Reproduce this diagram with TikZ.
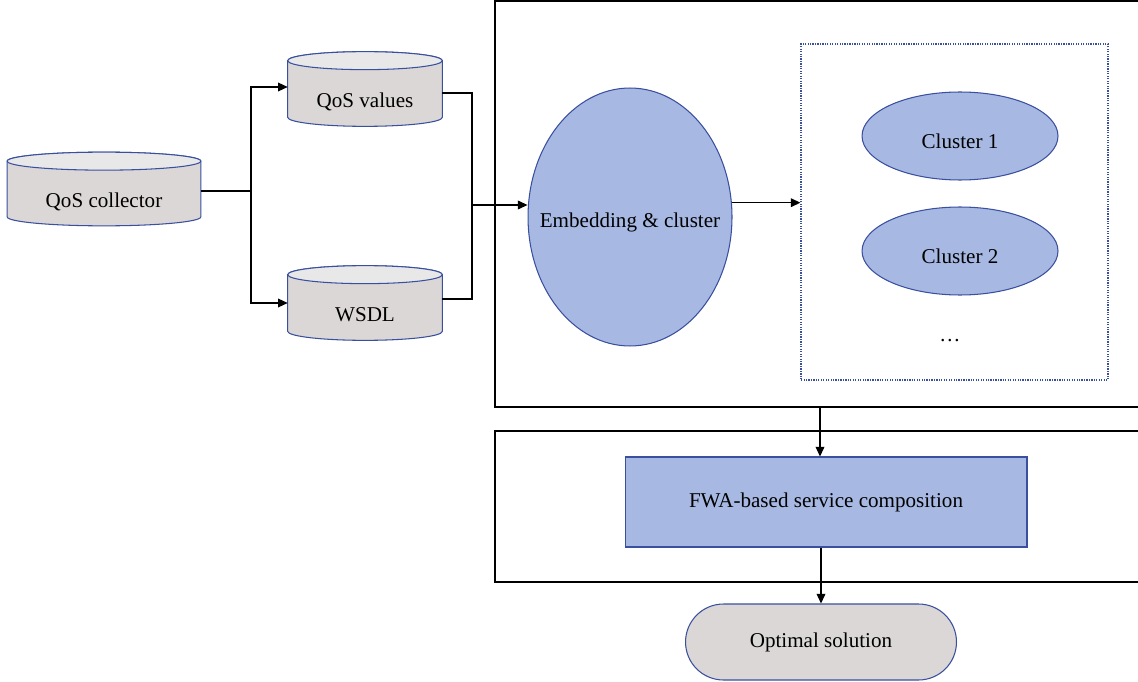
\documentclass[tikz,border=0pt]{standalone}
\usepackage{fontspec}
\setmainfont{Liberation Serif}
\usepackage{tikz}
\usetikzlibrary{shapes.geometric, shapes.misc, arrows.meta, positioning, calc, backgrounds}

\definecolor{edgeblue}{HTML}{3A4F9E}
\definecolor{dbbody}{HTML}{DAD7D6}
\definecolor{dbtop}{HTML}{E9E8E8}
\definecolor{clfill}{HTML}{A7B9E3}

\begin{document}
\begin{tikzpicture}[
    x=0.02cm, y=-0.02cm,
    txt/.style={font=\fontsize{12}{14}\selectfont},
    db/.style={rectangle, inner sep=0pt, txt, text height=0.8cm, text depth=0.05cm},
    dbshape/.style={draw=edgeblue, line width=0.6pt},
    blob/.style={ellipse, draw=edgeblue, fill=clfill, inner sep=0pt, line width=0.6pt, label={[txt, yshift=-0.1cm]center:#1}},
    stepbox/.style={rectangle, draw=edgeblue, fill=clfill, inner sep=0pt, line width=0.6pt, txt},
    frame/.style={rectangle, draw=black, inner sep=0pt, line width=0.7pt},
    arrow/.style={-{Triangle[length=5.5pt, width=5pt]}, line width=0.6pt, color=black},
    link/.style={line width=0.6pt, color=black},
]
\useasboundingbox (0,0) rectangle (1138,682);

% ── Containers ──
\node[frame, minimum width=13cm, minimum height=8.12cm] (topframe) at (820,204) {};
\node[frame, minimum width=13cm, minimum height=3.02cm] (botframe) at (820,506.5) {};
\node[rectangle, draw=edgeblue, dash pattern=on 0.7pt off 0.7pt, line width=0.7pt, minimum width=6.14cm, minimum height=6.72cm] (clbox) at (954.5,212) {};

% ── Data sources ──
\node[db, minimum width=3.86cm, minimum height=1.46cm] (coll) at (104,189) {QoS collector};
\node[db, minimum width=3.08cm, minimum height=1.48cm] (vals) at (365,89) {QoS values};
\node[db, minimum width=3.08cm, minimum height=1.48cm] (wsdl) at (365,303) {WSDL};

% ── Clustering ──
\node[blob=Embedding \& cluster, minimum width=4.08cm, minimum height=5.16cm] (embed) at (630,217) {};
\node[blob=Cluster 1, minimum width=3.92cm, minimum height=1.76cm] (cl1) at (960,136) {};
\node[blob=Cluster 2, minimum width=3.92cm, minimum height=1.76cm] (cl2) at (960,251) {};
\node[txt] (dots) at (950,341) {\dots};

% ── Composition ──
\node[stepbox, minimum width=8.04cm, minimum height=1.8cm] (fwa) at (826,502) {FWA-based service composition};
\node[rounded rectangle, draw=edgeblue, fill=dbbody, line width=0.6pt, inner sep=0pt, minimum width=5.42cm, minimum height=1.52cm, txt] (opt) at (821,642) {Optimal solution};

% ── Cylinders behind the data sources ──
\begin{scope}[on background layer]
\foreach \db in {coll, vals, wsdl} {
  \path[dbshape, fill=dbbody] let \p1=(\db.west), \p2=(\db.east) in
    ([yshift=-0.18cm]\db.north west) -- ([yshift=0.18cm]\db.south west)
    arc[start angle=180, end angle=360, x radius={(\x2-\x1)/2}, y radius=0.18cm]
    -- ([yshift=-0.18cm]\db.north east)
    arc[start angle=0, end angle=180, x radius={(\x2-\x1)/2}, y radius=0.18cm] -- cycle;
  \path[dbshape, fill=dbtop] let \p1=(\db.west), \p2=(\db.east) in
    ([yshift=-0.18cm]\db.north) ellipse[x radius={(\x2-\x1)/2}, y radius=0.18cm];
}
\end{scope}

% ── Arrows ──
\coordinate (split) at (251,191);
\coordinate (merge) at (472,205);
\draw[link] (coll.east |- split) -- (split);
\draw[arrow] (split) |- ([yshift=0.04cm]vals.west);
\draw[arrow] (split) |- (wsdl.west);
\draw[link] ([yshift=-0.08cm]vals.east) -| (merge);
\draw[link] ([yshift=0.08cm]wsdl.east) -| (merge);
\draw[arrow] (merge) -- (merge -| embed.west);
\draw[arrow] (embed.8) -- (embed.8 -| clbox.west);
\draw[arrow] (topframe.south) -- (topframe.south |- fwa.north);
\draw[arrow] (fwa.south -| opt.north) -- (opt.north);

\end{tikzpicture}
\end{document}
